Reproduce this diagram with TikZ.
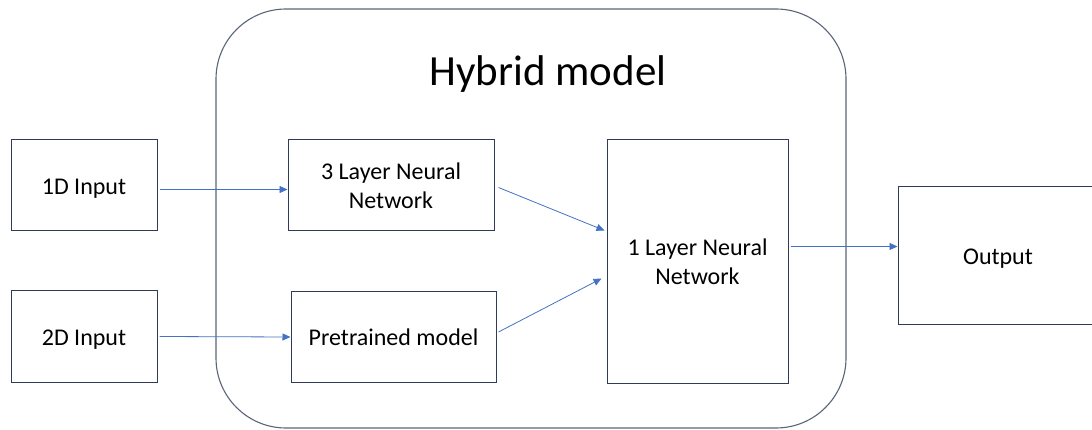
\documentclass[tikz,border=0pt]{standalone}
\usepackage{fontspec}
\setmainfont{Carlito}
\usepackage{xcolor}
\usepackage{tikz}
\usetikzlibrary{arrows.meta, positioning}

\definecolor{boxline}{HTML}{2F3B57}
\definecolor{groupline}{HTML}{5B6577}
\definecolor{arrowblue}{HTML}{4472C4}

\begin{document}
\begin{tikzpicture}[
			x=1pt, y=-1pt,
			every node/.style={font=\fontsize{24}{29}\selectfont, align=center},
			block/.style={rectangle, draw=boxline, line width=1pt, inner sep=0pt},
			oneline/.style={text height=21.5pt, text depth=4pt},
			group/.style={draw=groupline, line width=1.1pt, rounded corners=70pt},
			line/.style={-{Triangle[length=8pt, width=7pt]}, draw=arrowblue, line width=0.8pt}
			]
			
			\clip (0,0) rectangle (1092,430);
			\fill[white] (0,0) rectangle (1092,430);
			
			\draw[group] (216,9) rectangle (846,428);
			\node[anchor=base, font=\fontsize{43}{50}\selectfont] (title) at (548,86) {Hybrid model};
			
			\node[block, oneline, minimum width=146pt, minimum height=91pt] (in1) at (84,185.5) {1D Input};
			\node[block, oneline, minimum width=146pt, minimum height=91pt] (in2) at (84,336.5) {2D Input};
			\node[block, minimum width=206pt, minimum height=91pt] (nn3) at (391,185.5) {3 Layer Neural\\Network};
			\node[block, oneline, minimum width=205pt, minimum height=90pt] (pre) at (393.5,337) {Pretrained model};
			\node[block, minimum width=181pt, minimum height=243pt] (nn1) at (697.5,261.5) {1 Layer Neural\\Network};
			\node[block, oneline, minimum width=200pt, minimum height=137pt] (out) at (998,255.5) {Output};
			
			\draw[line] ([xshift=2pt, yshift=-4pt]in1.east) -- ([yshift=-4pt]nn3.west);
			\draw[line] ([xshift=2pt]in2.east) -- (pre.west);
			\draw[line] ([xshift=4pt, yshift=-2pt]nn3.east) -- ([xshift=-2pt, yshift=31pt]nn1.west);
			\draw[line] ([xshift=2pt, yshift=5pt]pre.east) -- ([xshift=-5pt, yshift=-17pt]nn1.west);
			\draw[line] ([xshift=2pt, yshift=15pt]nn1.east) -- ([yshift=15pt]nn1.east -| out.west);
		\end{tikzpicture}
\end{document}
